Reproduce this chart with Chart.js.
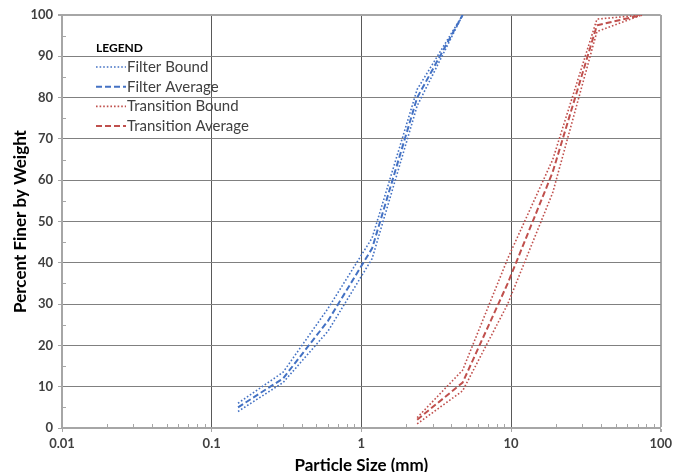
<!DOCTYPE html>
<html>
<head>
<meta charset="utf-8">
<script src="https://cdn.jsdelivr.net/npm/chart.js@4.4.1/dist/chart.umd.min.js"></script>
<style>
  html, body { margin: 0; padding: 0; background: #fff; }
  #wrap { width: 676px; height: 472px; position: relative; }
</style>
</head>
<body>
<div id="wrap"><canvas id="chart"></canvas></div>
<script>
// sieve sizes (mm) and percent passing
const filterSizes = [0.15, 0.3, 0.6, 1.18, 2.36, 4.75];
const filterUpper = [6, 13.5, 29, 46, 82, 100];
const filterAverage = [5, 12, 26, 43.5, 80, 100];
const filterLower = [4, 11, 23.5, 41, 78, 100];

const transitionSizes = [2.36, 4.75, 9.5, 19, 37.5, 75];
const transitionUpper = [2.5, 14, 41, 65, 99, 100];
const transitionAverage = [2, 11, 35, 62, 97.5, 100];
const transitionLower = [1, 9, 30, 57, 96, 100];

const xDecades = [0.01, 0.1, 1, 10, 100];
const xTickLabels = ['0.01', '0.1', '1', '10', '100'];
const yMinorTicks = [5, 15, 25, 35, 45, 55, 65, 75, 85, 95];
const legendLabels = ['Filter Bound', 'Filter Average', 'Transition Bound', 'Transition Average'];

const BLUE = '#4472C4';
const RED = '#C0504D';
const AXIS = '#a6a6a6';
const FONT = 'Lato, "Open Sans", sans-serif';

function pts(xs, ys) { return xs.map((x, i) => ({ x, y: ys[i] })); }

const boundStyle = { borderWidth: 1.6, borderDash: [1.6, 2] };
const avgStyle = { borderWidth: 2, borderDash: [6, 3] };

const datasets = [
  { label: legendLabels[0], data: pts(filterSizes, filterUpper), borderColor: BLUE, ...boundStyle },
  { label: legendLabels[0], data: pts(filterSizes, filterLower), borderColor: BLUE, ...boundStyle },
  { label: legendLabels[1], data: pts(filterSizes, filterAverage), borderColor: BLUE, ...avgStyle },
  { label: legendLabels[2], data: pts(transitionSizes, transitionUpper), borderColor: RED, ...boundStyle },
  { label: legendLabels[2], data: pts(transitionSizes, transitionLower), borderColor: RED, ...boundStyle },
  { label: legendLabels[3], data: pts(transitionSizes, transitionAverage), borderColor: RED, ...avgStyle }
];
datasets.forEach(d => { d.pointRadius = 0; d.tension = 0; d.fill = false; });

function isDecade(v) {
  return xDecades.some(d => Math.abs(v - d) / d < 1e-6);
}

// minor tick marks point into the plot, major ones stick out (Chart.js draws those)
const minorTicks = {
  id: 'minorTicks',
  beforeDatasetsDraw(chart) {
    const { ctx, chartArea: a, scales } = chart;
    ctx.save();
    ctx.strokeStyle = AXIS;
    ctx.lineWidth = 1;
    ctx.beginPath();
    for (const t of scales.x.ticks) {
      if (isDecade(t.value)) continue;
      const px = Math.round(scales.x.getPixelForValue(t.value)) + 0.5;
      ctx.moveTo(px, a.bottom); ctx.lineTo(px, a.bottom - 4);
    }
    for (const v of yMinorTicks) {
      const py = Math.round(scales.y.getPixelForValue(v)) + 0.5;
      ctx.moveTo(a.left, py); ctx.lineTo(a.left + 4, py);
    }
    ctx.stroke();
    ctx.restore();
  }
};

// legend drawn inside the plot area, like the original
const innerLegend = {
  id: 'innerLegend',
  afterDraw(chart) {
    const ctx = chart.ctx;
    ctx.save();
    ctx.textBaseline = 'middle';
    ctx.fillStyle = '#000';
    ctx.font = 'bold 12px ' + FONT;
    ctx.fillText('LEGEND', 96, 48);
    const shown = [0, 2, 3, 5];
    shown.forEach((di, i) => {
      const ds = chart.data.datasets[di];
      const y = 67 + i * 19.7;
      ctx.strokeStyle = ds.borderColor;
      ctx.lineWidth = ds.borderWidth;
      ctx.setLineDash(ds.borderDash);
      ctx.beginPath(); ctx.moveTo(96, y); ctx.lineTo(126, y); ctx.stroke();
      ctx.setLineDash([]);
      ctx.fillStyle = '#404040';
      ctx.font = '15px ' + FONT;
      ctx.fillText(ds.label, 127, y);
    });
    ctx.restore();
  }
};

new Chart(document.getElementById('chart'), {
  type: 'line',
  data: { datasets },
  plugins: [minorTicks, innerLegend],
  options: {
    responsive: true,
    maintainAspectRatio: false,
    animation: false,
    layout: { padding: { top: 15, right: 11, left: 0, bottom: 0 } },
    plugins: { legend: { display: false }, tooltip: { enabled: false } },
    scales: {
      x: {
        type: 'logarithmic',
        min: 0.01, max: 100,
        afterBuildTicks(scale) {
          const ticks = [];
          for (let d = 0; d < xDecades.length; d++) {
            const base = xDecades[d];
            const top = d === xDecades.length - 1 ? 1 : 9;
            for (let m = 1; m <= top; m++) ticks.push({ value: base * m });
          }
          scale.ticks = ticks;
        },
        afterFit(scale) { scale.height = 44; },
        ticks: {
          autoSkip: false, maxRotation: 0, padding: 4,
          color: '#404040', font: { family: FONT, size: 13, weight: 'bold' },
          callback(v) {
            const i = xDecades.findIndex(d => Math.abs(v - d) / d < 1e-6);
            return i >= 0 ? xTickLabels[i] : '';
          }
        },
        grid: {
          color: c => isDecade(c.tick.value) ? (c.tick.value === 100 ? AXIS : '#595959') : 'rgba(0,0,0,0)',
          lineWidth: c => c.tick && c.tick.value === 100 ? 2 : 1,
          tickColor: c => isDecade(c.tick.value) ? AXIS : 'rgba(0,0,0,0)',
          tickLength: 4
        },
        border: { color: AXIS, width: 2 },
        title: {
          display: true, text: 'Particle Size (mm)', color: '#000',
          font: { family: FONT, size: 17, weight: 'bold' },
          padding: { top: 0, bottom: -4 }
        }
      },
      y: {
        min: 0, max: 100,
        afterFit(scale) { scale.width = 62; },
        ticks: {
          stepSize: 10, padding: 5, autoSkip: false,
          color: '#404040', font: { family: FONT, size: 13, weight: 'bold' }
        },
        grid: {
          color: c => c.tick.value === 100 ? AXIS : '#808080',
          lineWidth: c => c.tick && c.tick.value === 100 ? 2 : 1,
          tickColor: AXIS,
          tickLength: 4
        },
        border: { color: AXIS, width: 2 },
        title: {
          display: true, text: 'Percent Finer by Weight', color: '#000',
          font: { family: FONT, size: 17, weight: 'bold' },
          padding: { top: 10, bottom: 0 }
        }
      }
    }
  }
});
</script>
</body>
</html>
